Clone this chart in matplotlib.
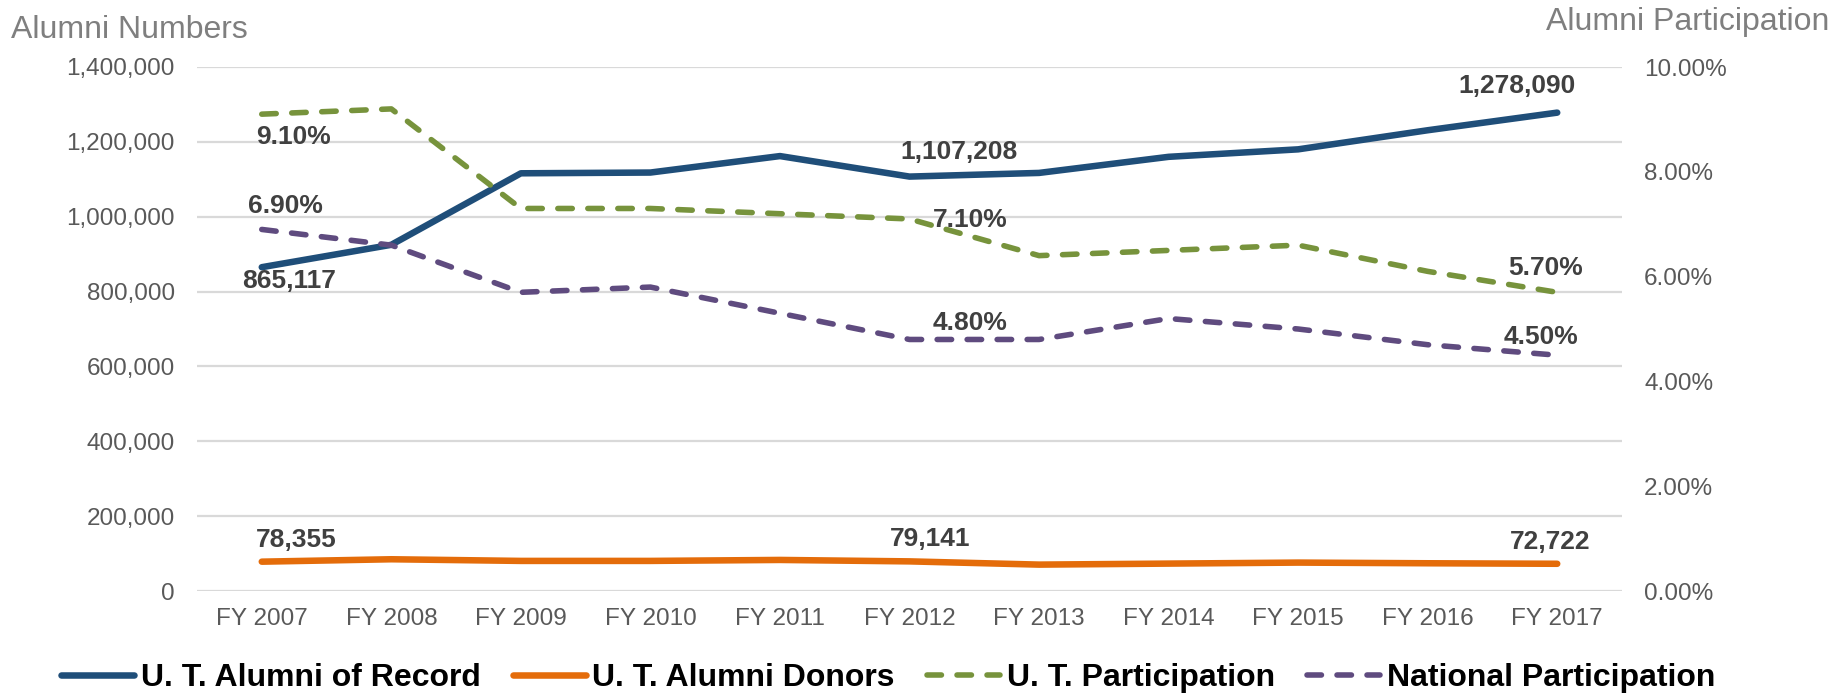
import matplotlib
matplotlib.use("Agg")
import matplotlib.pyplot as plt
from matplotlib.ticker import FuncFormatter, MultipleLocator

plt.rcParams['font.family'] = ['Liberation Sans', 'DejaVu Sans']

# data
years = ["FY 2007", "FY 2008", "FY 2009", "FY 2010", "FY 2011", "FY 2012",
         "FY 2013", "FY 2014", "FY 2015", "FY 2016", "FY 2017"]
alumni_of_record = [865117, 925000, 1116000, 1118000, 1162000, 1107208,
                    1117000, 1160000, 1180000, 1231000, 1278090]
alumni_donors = [78355, 84800, 80400, 80400, 83000, 79141,
                 70500, 73200, 75900, 74100, 72722]
ut_participation = [0.091, 0.092, 0.073, 0.073, 0.072, 0.071,
                    0.064, 0.065, 0.066, 0.061, 0.057]
national_participation = [0.069, 0.066, 0.057, 0.058, 0.053, 0.048,
                          0.048, 0.052, 0.050, 0.047, 0.045]

BLUE = "#1F4E79"
ORANGE = "#E46C0A"
GREEN = "#77933C"
PURPLE = "#5F4B7F"
LABEL = "#404040"
TICK = "#595959"
TITLE = "#7F7F7F"

fig = plt.figure(figsize=(18.46, 6.96), dpi=100)
ax = fig.add_axes([197 / 1846, 105 / 696, 1425 / 1846, 524 / 696])
ax2 = ax.twinx()

x = list(range(len(years)))

l1, = ax.plot(x, alumni_of_record, color=BLUE, lw=4.7, solid_capstyle='round',
              solid_joinstyle='round', label="U. T. Alumni of Record")
l2, = ax.plot(x, alumni_donors, color=ORANGE, lw=4.7, solid_capstyle='round',
              solid_joinstyle='round', label="U. T. Alumni Donors")
l3, = ax2.plot(x, ut_participation, color=GREEN, lw=4, dashes=(2.6, 2.8),
               dash_capstyle='round', dash_joinstyle='round', label="U. T. Participation")
l4, = ax2.plot(x, national_participation, color=PURPLE, lw=4, dashes=(2.6, 2.8),
               dash_capstyle='round', dash_joinstyle='round', label="National Participation")

ax.set_xlim(-0.5, len(years) - 0.5)
ax.set_ylim(0, 1400000)
ax2.set_ylim(0, 0.10)
ax.yaxis.set_major_locator(MultipleLocator(200000))
ax2.yaxis.set_major_locator(MultipleLocator(0.02))
ax.yaxis.set_major_formatter(FuncFormatter(lambda v, p: f"{v:,.0f}"))
ax2.yaxis.set_major_formatter(FuncFormatter(lambda v, p: f"{v * 100:.2f}%"))
ax.set_xticks(x)
ax.set_xticklabels(years)

ax.grid(axis='y', color="#D9D9D9", lw=1.6)
ax.set_axisbelow(True)
for a in (ax, ax2):
    for s in a.spines.values():
        s.set_visible(False)
ax.tick_params(axis='both', length=0, labelsize=17.5, labelcolor=TICK)
ax.tick_params(axis='y', pad=16)
ax.tick_params(axis='x', pad=12)
ax2.tick_params(axis='y', length=0, labelsize=17.5, labelcolor=TICK, pad=16)

fig.text(11 / 1846, 1 - 30 / 696, "Alumni Numbers", fontsize=23, color=TITLE,
         ha='left', va='center')
fig.text(1829 / 1846, 1 - 22 / 696, "Alumni Participation", fontsize=23, color=TITLE,
         ha='right', va='center')

# data labels, offsets in pixels from the point
def label(values, i, text, dx, dy, src):
    ax2.annotate(text, (x[i], values[i]), xycoords=src.transData,
                 xytext=(dx, dy), textcoords='offset pixels',
                 ha='center', va='center', fontsize=19, fontweight='bold',
                 color=LABEL, zorder=10)

label(alumni_of_record, 0, f"{alumni_of_record[0]:,}", 27, -14, ax)
label(alumni_of_record, 5, f"{alumni_of_record[5]:,}", 49, 25, ax)
label(alumni_of_record, 10, f"{alumni_of_record[10]:,}", -40, 27, ax)
label(alumni_donors, 0, f"{alumni_donors[0]:,}", 34, 22, ax)
label(alumni_donors, 5, f"{alumni_donors[5]:,}", 21, 22, ax)
label(alumni_donors, 10, f"{alumni_donors[10]:,}", -7, 22, ax)
label(ut_participation, 0, f"{ut_participation[0] * 100:.2f}%", 32, -23, ax2)
label(ut_participation, 5, f"{ut_participation[5] * 100:.2f}%", 61, -1, ax2)
label(ut_participation, 10, f"{ut_participation[10] * 100:.2f}%", -12, 24, ax2)
label(national_participation, 0, f"{national_participation[0] * 100:.2f}%", 24, 23, ax2)
label(national_participation, 5, f"{national_participation[5] * 100:.2f}%", 61, 16, ax2)
label(national_participation, 10, f"{national_participation[10] * 100:.2f}%", -16, 18, ax2)

fig.legend(handles=[l1, l2, l3, l4], loc='center', bbox_to_anchor=(888 / 1846, 18 / 696),
           ncol=4, frameon=False, prop={'weight': 'bold', 'size': 23},
           handlelength=2.3, handletextpad=0.2, columnspacing=1.0, borderpad=0)

fig.savefig("out.png", dpi=100)
